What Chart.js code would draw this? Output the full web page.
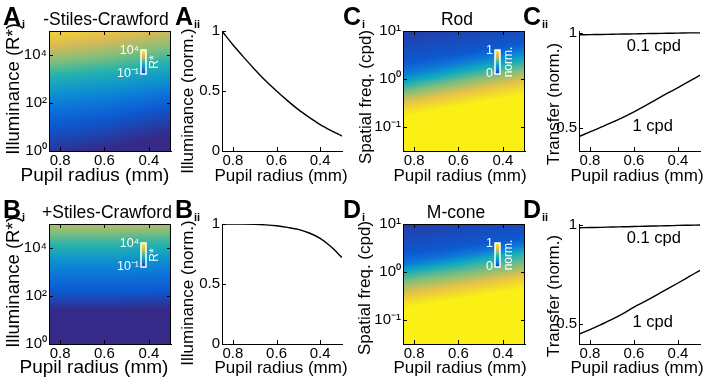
<!DOCTYPE html>
<html>
<head>
<meta charset="utf-8">
<script src="https://cdn.jsdelivr.net/npm/chart.js@4.4.1/dist/chart.umd.min.js"></script>
<style>
  body { margin: 0; background: #fff; }
  #fig { position: relative; width: 705px; height: 384px; }
  #fig canvas { position: absolute; left: 0; top: 0; }
</style>
</head>
<body>
<div id="fig">
  <canvas id="ai" width="705" height="384"></canvas>
  <canvas id="aii" width="705" height="384"></canvas>
  <canvas id="ci" width="705" height="384"></canvas>
  <canvas id="cii" width="705" height="384"></canvas>
  <canvas id="bi" width="705" height="384"></canvas>
  <canvas id="bii" width="705" height="384"></canvas>
  <canvas id="di" width="705" height="384"></canvas>
  <canvas id="dii" width="705" height="384"></canvas>
</div>
<script>
// pupil radius (mm) samples for the line panels
const radius = [0.85, 0.8, 0.75, 0.7, 0.65, 0.6, 0.55, 0.5, 0.45, 0.4, 0.35, 0.3];
const illumNoSC = [1, 0.885, 0.78, 0.68, 0.585, 0.5, 0.42, 0.345, 0.28, 0.22, 0.17, 0.125];
const illumSC = [1, 1, 1, 0.998, 0.993, 0.985, 0.972, 0.955, 0.925, 0.88, 0.81, 0.72];
const rodTransfer01 = [0.99, 0.991, 0.992, 0.993, 0.994, 0.995, 0.996, 0.997, 0.998, 0.999, 1.0, 1.0];
const rodTransfer1 = [0.456, 0.48, 0.505, 0.53, 0.557, 0.586, 0.617, 0.65, 0.682, 0.713, 0.745, 0.778];
const coneTransfer01 = [0.986, 0.987, 0.988, 0.99, 0.991, 0.992, 0.994, 0.995, 0.996, 0.998, 0.999, 1.0];
const coneTransfer1 = [0.449, 0.472, 0.497, 0.523, 0.552, 0.585, 0.614, 0.645, 0.676, 0.707, 0.739, 0.771];

// heat maps: for each radius column, log10 position of each colour level
const mapRadius = [0.85, 0.575, 0.3];
const illumLevels = [0, 0.1, 0.2, 0.3, 0.45, 0.6, 0.75, 0.9];
const illumNoSCLog = [
  [-0.4, 1.0, 1.85, 2.4, 3.12, 3.7, 4.35, 5.1],
  [0.1, 1.35, 2.1, 2.65, 3.35, 3.95, 4.65, 5.4],
  [0.7, 1.9, 2.5, 3.0, 3.7, 4.3, 5.1, 5.8]
];
const illumSCLog = [
  [1.4, 2.15, 2.95, 3.5, 4.1, 4.65, 5.2, 5.8],
  [1.4, 2.15, 2.95, 3.5, 4.1, 4.65, 5.2, 5.8],
  [1.45, 2.2, 3.0, 3.55, 4.15, 4.7, 5.25, 5.85]
];
const transferLevels = [0.03, 0.1, 0.2, 0.4, 0.6, 0.8, 0.97];
const rodFreqLog = [
  [1.1, 0.35, 0.12, -0.08, -0.28, -0.5, -0.78],
  [1.3, 0.55, 0.37, 0.17, -0.04, -0.27, -0.55],
  [1.5, 0.75, 0.61, 0.41, 0.2, -0.04, -0.32]
];
const coneFreqLog = [
  [1.1, 0.38, 0.17, 0.0, -0.2, -0.47, -0.75],
  [1.3, 0.55, 0.37, 0.2, -0.03, -0.27, -0.55],
  [1.5, 0.72, 0.57, 0.44, 0.16, -0.06, -0.35]
];

// tick values
const radiusTicks = [0.8, 0.6, 0.4];
const illumTicks = [1, 1e2, 1e4];
const freqTicks = [0.1, 1, 10];
const normTicks = [0, 0.5, 1];
const transferTicks = [0.5, 1];

const FONT = '"Liberation Sans", Arial, Helvetica, sans-serif';
Chart.defaults.font.family = FONT;
Chart.defaults.color = '#000';

const parulaStops = [[53,42,135],[3,99,225],[20,133,212],[6,167,198],[56,185,158],[146,191,115],[217,186,86],[252,206,46],[249,251,14]];
function parula(t) {
  t = Math.min(1, Math.max(0, t)) * (parulaStops.length - 1);
  const i = Math.min(Math.floor(t), parulaStops.length - 2), f = t - i;
  const c = parulaStops[i].map((v, k) => Math.round(v + f * (parulaStops[i + 1][k] - v)));
  return `rgb(${c})`;
}

const SUP = {'-': '\u207B', '0': '\u2070', '1': '\u00B9', '2': '\u00B2', '3': '\u00B3', '4': '\u2074', '5': '\u2075'};
const logLabel = v => '10' + String(Math.round(Math.log10(v))).split('').map(c => SUP[c]).join('');

function text(ctx, str, x, y, size, o = {}) {
  ctx.save();
  ctx.translate(x, y);
  if (o.rot) ctx.rotate(-Math.PI / 2);
  ctx.font = `${o.bold ? 'bold ' : ''}${size}px ${FONT}`;
  ctx.fillStyle = o.color || '#000';
  ctx.textAlign = o.align || 'center';
  ctx.textBaseline = o.base || 'middle';
  ctx.fillText(str, 0, 0);
  ctx.restore();
}

function drawMap(chart, m) {
  const {ctx, chartArea: a, scales: {x, y}} = chart;
  ctx.save();
  ctx.beginPath();
  ctx.rect(a.left, a.top, a.right - a.left, a.bottom - a.top);
  ctx.clip();
  for (let px = Math.floor(a.left); px < Math.ceil(a.right); px++) {
    const r = x.getValueForPixel(px + 0.5);
    let j = 0;
    while (j < m.cols.length - 2 && r < m.cols[j + 1]) j++;
    const w = (m.cols[j] - r) / (m.cols[j] - m.cols[j + 1]);
    const pos = m.levels.map((_, k) => y.getPixelForValue(10 ** (m.grid[j][k] + w * (m.grid[j + 1][k] - m.grid[j][k]))));
    const p0 = pos[0], p1 = pos[pos.length - 1];
    const g = ctx.createLinearGradient(0, p0, 0, p1);
    pos.forEach((p, k) => g.addColorStop((p - p0) / (p1 - p0), parula(m.levels[k])));
    ctx.fillStyle = g;
    ctx.fillRect(px, a.top, 1, a.bottom - a.top);
  }
  ctx.restore();
}

const figPlugin = {
  id: 'fig',
  beforeDatasetsDraw(chart, args, o) {
    if (o.map) drawMap(chart, o.map);
  },
  afterDraw(chart, args, o) {
    const {ctx, chartArea: a, scales: {x, y}} = chart;
    ctx.save();
    ctx.strokeStyle = '#000';
    ctx.lineWidth = 1;
    ctx.beginPath();
    x.ticks.forEach(t => {
      const p = Math.round(x.getPixelForValue(t.value)) + 0.5;
      ctx.moveTo(p, a.bottom); ctx.lineTo(p, a.bottom - 4);
      if (o.box) { ctx.moveTo(p, a.top); ctx.lineTo(p, a.top + 4); }
    });
    y.ticks.forEach(t => {
      const p = Math.round(y.getPixelForValue(t.value)) + 0.5;
      ctx.moveTo(a.left, p); ctx.lineTo(a.left + 4, p);
      if (o.box) { ctx.moveTo(a.right, p); ctx.lineTo(a.right - 4, p); }
    });
    if (o.box) {
      ctx.moveTo(a.left, Math.round(a.top) + 0.5); ctx.lineTo(a.right, Math.round(a.top) + 0.5);
      ctx.moveTo(Math.round(a.right) - 0.5, a.top); ctx.lineTo(Math.round(a.right) - 0.5, a.bottom);
    }
    ctx.stroke();

    if (o.colorbar) {
      const cb = o.colorbar, l = a.right - 30, t = a.top + 19, h = 24;
      const g = ctx.createLinearGradient(0, t + h, 0, t);
      for (let k = 0; k <= 8; k++) g.addColorStop(k / 8, parula(k / 8));
      ctx.fillStyle = g;
      ctx.fillRect(l, t, 5, h);
      ctx.strokeStyle = '#fff';
      ctx.lineWidth = 1.5;
      ctx.strokeRect(l, t, 5, h);
      text(ctx, cb.top, l - 2, t + 1, 12.5, {align: 'right', color: '#fff'});
      text(ctx, cb.bottom, l - 2, t + h, 12.5, {align: 'right', color: '#fff'});
      text(ctx, cb.side, l + 13.5, t + h / 2, 12, {rot: true, color: '#fff'});
    }

    (o.notes || []).forEach(n => text(ctx, n.text, x.getPixelForValue(n.r), y.getPixelForValue(n.v), 16.5));

    if (o.letter) {
      const [L, s, lx, ly] = o.letter;
      ctx.font = `bold 25px ${FONT}`;
      const w = ctx.measureText(L).width;
      text(ctx, L, lx, ly, 25, {bold: true, align: 'left', base: 'alphabetic'});
      text(ctx, s, lx + w + 1, ly + 3, 11, {bold: true, align: 'left', base: 'alphabetic'});
    }
    if (o.title) text(ctx, o.title[0], o.title[1], o.title[2], 17.5);
    if (o.xTitle) text(ctx, o.xTitle[0], o.xTitle[1], o.xTitle[2], o.xTitle[3]);
    if (o.yTitle) text(ctx, o.yTitle[0], o.yTitle[1], o.yTitle[2], o.yTitle[3], {rot: true});
    ctx.restore();
  }
};
Chart.register(figPlugin);

function xAxis(z) {
  return {
    type: 'linear', reverse: true, min: 0.3, max: 0.85,
    afterFit: s => { s.height = 25; },
    afterBuildTicks: s => { s.ticks = radiusTicks.map(v => ({value: v})); },
    grid: {display: false, drawTicks: false},
    border: {display: true, color: '#000', width: 1, z: z},
    ticks: {padding: 1, font: {size: 15}, maxRotation: 0, autoSkip: false, callback: v => v.toFixed(1)}
  };
}

function yAxis(type, min, max, ticks, label, z) {
  return {
    type: type, min: min, max: max,
    afterFit: s => { s.width = 30; },
    afterBuildTicks: s => { s.ticks = ticks.map(v => ({value: v})); },
    grid: {display: false, drawTicks: false},
    border: {display: true, color: '#000', width: 1, z: z},
    ticks: {padding: 2, font: {size: 15}, autoSkip: false, callback: label}
  };
}

function frame(c) {
  return {left: c[0] - 30, top: c[1], right: 705 - c[2], bottom: 384 - c[3] - 25};
}

function line(values) {
  return {
    data: radius.map((r, i) => ({x: r, y: values[i]})),
    borderColor: '#000', borderWidth: 1.4, pointRadius: 0,
    cubicInterpolationMode: 'monotone', fill: false
  };
}

function makeChart(id, area, datasets, scales, fig) {
  new Chart(document.getElementById(id), {
    type: 'line',
    data: {datasets: datasets},
    options: {
      responsive: false, animation: false, devicePixelRatio: 1, events: [],
      layout: {padding: frame(area)},
      plugins: {legend: {display: false}, tooltip: {enabled: false}, fig: fig},
      scales: scales
    }
  });
}

const num = v => String(v);

// top row
makeChart('ai', [49, 31, 171, 151], [],
  {x: xAxis(1), y: yAxis('logarithmic', 1, 1e5, illumTicks, logLabel, 1)},
  {map: {cols: mapRadius, levels: illumLevels, grid: illumNoSCLog}, box: true,
   colorbar: {top: logLabel(1e4), bottom: logLabel(0.1), side: 'R*'},
   letter: ['A', 'i', 3, 25], title: ['-Stiles-Crawford', 106, 20],
   xTitle: ['Pupil radius (mm)', 95, 176, 19], yTitle: ['Illuminance (R*)', 14, 89, 18.5]});

makeChart('aii', [222, 31, 342, 151], [line(illumNoSC)],
  {x: xAxis(0), y: yAxis('linear', 0, 1, normTicks, num, 0)},
  {letter: ['A', 'ii', 175, 25],
   xTitle: ['Pupil radius (mm)', 281, 176, 17], yTitle: ['Illuminance (norm.)', 188, 101, 17]});

makeChart('ci', [403, 31, 525, 151], [],
  {x: xAxis(1), y: yAxis('logarithmic', 10 ** -1.5, 10, freqTicks, logLabel, 1)},
  {map: {cols: mapRadius, levels: transferLevels, grid: rodFreqLog}, box: true,
   colorbar: {top: '1', bottom: '0', side: 'norm.'},
   letter: ['C', 'i', 343, 25], title: ['Rod', 457, 20],
   xTitle: ['Pupil radius (mm)', 460, 176, 17], yTitle: ['Spatial freq. (cpd)', 366, 97, 17]});

makeChart('cii', [579, 31, 700, 151], [line(rodTransfer01), line(rodTransfer1)],
  {x: xAxis(0), y: yAxis('linear', 0.38, 1.01, transferTicks, num, 0)},
  {notes: [{text: '0.1 cpd', r: 0.51, v: 0.927}, {text: '1 cpd', r: 0.515, v: 0.508}],
   letter: ['C', 'ii', 523, 25],
   xTitle: ['Pupil radius (mm)', 637, 176, 17], yTitle: ['Transfer (norm.)', 554, 104, 17]});

// bottom row
makeChart('bi', [49, 224, 171, 344], [],
  {x: xAxis(1), y: yAxis('logarithmic', 1, 1e5, illumTicks, logLabel, 1)},
  {map: {cols: mapRadius, levels: illumLevels, grid: illumSCLog}, box: true,
   colorbar: {top: logLabel(1e4), bottom: logLabel(0.1), side: 'R*'},
   letter: ['B', 'i', 3, 218], title: ['+Stiles-Crawford', 107, 213],
   xTitle: ['Pupil radius (mm)', 94, 368, 19], yTitle: ['Illuminance (R*)', 14, 282, 18.5]});

makeChart('bii', [222, 224, 342, 344], [line(illumSC)],
  {x: xAxis(0), y: yAxis('linear', 0, 1, normTicks, num, 0)},
  {letter: ['B', 'ii', 175, 218],
   xTitle: ['Pupil radius (mm)', 281, 368, 17], yTitle: ['Illuminance (norm.)', 188, 293, 17]});

makeChart('di', [403, 224, 525, 344], [],
  {x: xAxis(1), y: yAxis('logarithmic', 10 ** -1.5, 10, freqTicks, logLabel, 1)},
  {map: {cols: mapRadius, levels: transferLevels, grid: coneFreqLog}, box: true,
   colorbar: {top: '1', bottom: '0', side: 'norm.'},
   letter: ['D', 'i', 343, 218], title: ['M-cone', 456, 213],
   xTitle: ['Pupil radius (mm)', 460, 368, 17], yTitle: ['Spatial freq. (cpd)', 365, 288, 17]});

makeChart('dii', [579, 224, 700, 344], [line(coneTransfer01), line(coneTransfer1)],
  {x: xAxis(0), y: yAxis('linear', 0.399, 1.005, transferTicks, num, 0)},
  {notes: [{text: '0.1 cpd', r: 0.51, v: 0.934}, {text: '1 cpd', r: 0.515, v: 0.509}],
   letter: ['D', 'ii', 523, 218],
   xTitle: ['Pupil radius (mm)', 637, 368, 17], yTitle: ['Transfer (norm.)', 554, 296, 17]});
</script>
</body>
</html>
